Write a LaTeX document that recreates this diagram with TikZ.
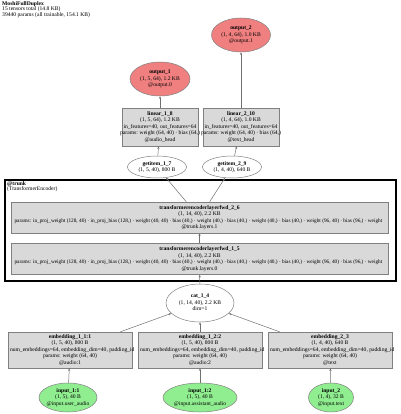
\documentclass[tikz,border=0pt]{standalone}
\usepackage{fontspec}
\setmainfont{Liberation Serif}
\usetikzlibrary{shapes.geometric,arrows.meta}
\definecolor{boxfill}{HTML}{D9D9D9}
\definecolor{outfill}{HTML}{F08080}
\definecolor{infill}{HTML}{90EE90}
\definecolor{bordergray}{HTML}{808080}
\definecolor{edgegray}{HTML}{707070}
\newcommand{\ntext}[1]{\makebox[0pt]{\begin{tabular}{@{}c@{}}#1\end{tabular}}}
\newcommand{\paramline}{{\fontsize{5.3}{6.5}\selectfont params: in\_proj\_weight (128, 40) · in\_proj\_bias (128,) · weight (40, 40) · bias (40,) · weight (40,) · bias (40,) · weight (40,) · bias (40,) · weight (96, 40) · bias (96,) · weight}}
\begin{document}
\begin{tikzpicture}[x=1pt,y=-1pt,
 every node/.style={font=\fontsize{5.6}{6.5}\selectfont, inner sep=0pt},
 opbox/.style={draw=bordergray, fill=boxfill, rectangle, line width=0.5pt},
 tensorell/.style={draw=bordergray, fill=white, ellipse, line width=0.5pt},
 outell/.style={draw=bordergray, fill=outfill, ellipse, line width=0.5pt},
 inell/.style={draw=bordergray, fill=infill, ellipse, line width=0.5pt},
 edge/.style={draw=edgegray, line width=0.5pt, -{Stealth[length=2.6pt,width=2.2pt]}},
 cluster/.style={draw=black, line width=1.6pt, rectangle}
]
\useasboundingbox (0,0) rectangle (400,414);

% title
\node[anchor=north west, align=left, font=\fontsize{5.6}{5.4}\selectfont] (title) at (2,1.5)
  {\textbf{MoshiFullDuplex}\\15 tensors total (14.8 KB)\\39440 params (all trainable, 154.1 KB)};

% outputs
\node[outell, minimum width=59, minimum height=34] (out2) at (241,35)
  {\ntext{\textbf{output\_2}\\(1, 4, 64), 1.0 KB\\@output.1}};
\node[outell, minimum width=60, minimum height=34] (out1) at (160,79)
  {\ntext{\textbf{output\_1}\\(1, 5, 64), 1.2 KB\\@output.0}};

% linear heads
\node[opbox, minimum width=76, minimum height=38] (lin1) at (160,127)
  {\ntext{\textbf{linear\_1\_8}\\(1, 5, 64), 1.2 KB\\in\_features=40, out\_features=64\\params: weight (64, 40) · bias (64,)\\@audio\_head}};
\node[opbox, minimum width=76, minimum height=38] (lin2) at (241,127)
  {\ntext{\textbf{linear\_2\_10}\\(1, 4, 64), 1.0 KB\\in\_features=40, out\_features=64\\params: weight (64, 40) · bias (64,)\\@text\_head}};

% getitems
\node[tensorell, minimum width=59, minimum height=22] (get1) at (157,167)
  {\ntext{\textbf{getitem\_1\_7}\\(1, 5, 40), 800 B}};
\node[tensorell, minimum width=59, minimum height=22] (get2) at (232,167)
  {\ntext{\textbf{getitem\_2\_9}\\(1, 4, 40), 640 B}};

% trunk cluster
\node[cluster, minimum width=391, minimum height=101] (trunk) at (200.5,230.5) {};
\node[anchor=north west, align=left, font=\fontsize{5.6}{5.4}\selectfont] (trunklabel) at (7,181.5)
  {\textbf{@trunk}\\(TransformerEncoder)};

\node[opbox, minimum width=377, minimum height=31] (tf2) at (199.5,217.5)
  {\ntext{\textbf{transformerencoderlayerfwd\_2\_6}\\(1, 14, 40), 2.2 KB\\\makebox[370pt][l]{\paramline}\\@trunk.layers.1}};
\node[opbox, minimum width=377, minimum height=31] (tf1) at (199.5,259)
  {\ntext{\textbf{transformerencoderlayerfwd\_1\_5}\\(1, 14, 40), 2.2 KB\\\makebox[370pt][l]{\paramline}\\@trunk.layers.0}};

% cat
\node[tensorell, minimum width=68, minimum height=38] (cat) at (200,303)
  {\ntext{\textbf{cat\_1\_4}\\(1, 14, 40), 2.2 KB\\dim=1}};

% embeddings
\node[opbox, minimum width=124, minimum height=36] (emb1) at (70,350)
  {\ntext{\textbf{embedding\_1\_1:1}\\(1, 5, 40), 800 B\\\makebox[120pt][l]{num\_embeddings=64, embedding\_dim=40, padding\_id}\\params: weight (64, 40)\\@audio:1}};
\node[opbox, minimum width=124, minimum height=36] (emb2) at (200,350)
  {\ntext{\textbf{embedding\_1\_2:2}\\(1, 5, 40), 800 B\\\makebox[120pt][l]{num\_embeddings=64, embedding\_dim=40, padding\_id}\\params: weight (64, 40)\\@audio:2}};
\node[opbox, minimum width=124, minimum height=36] (emb3) at (330,350)
  {\ntext{\textbf{embedding\_2\_3}\\(1, 4, 40), 640 B\\\makebox[120pt][l]{num\_embeddings=64, embedding\_dim=40, padding\_id}\\params: weight (64, 40)\\@text}};

% inputs
\node[inell, minimum width=58, minimum height=29] (in1) at (68,397.5)
  {\ntext{\textbf{input\_1:1}\\(1, 5), 40 B\\@input.user\_audio}};
\node[inell, minimum width=74, minimum height=29] (in2) at (200,397.5)
  {\ntext{\textbf{input\_1:2}\\(1, 5), 40 B\\@input.assistant\_audio}};
\node[inell, minimum width=45, minimum height=29] (in3) at (331,397.5)
  {\ntext{\textbf{input\_2}\\(1, 4), 32 B\\@input.text}};

% edges
\draw[edge] (in1) -- (emb1);
\draw[edge] (in2) -- (emb2);
\draw[edge] (in3) -- (emb3);
\draw[edge] (emb1) -- (cat);
\draw[edge] (emb2) -- (cat);
\draw[edge] (emb3) -- (cat);
\draw[edge] (cat) -- (tf1);
\draw[edge] (tf1) -- (tf2);
\draw[edge] (tf2) -- (get1);
\draw[edge] (tf2) -- (get2);
\draw[edge] (get1) -- (lin1);
\draw[edge] (get2) -- (lin2);
\draw[edge] (lin1) -- (out1);
\draw[edge] (lin2) -- (out2);
\end{tikzpicture}
\end{document}
